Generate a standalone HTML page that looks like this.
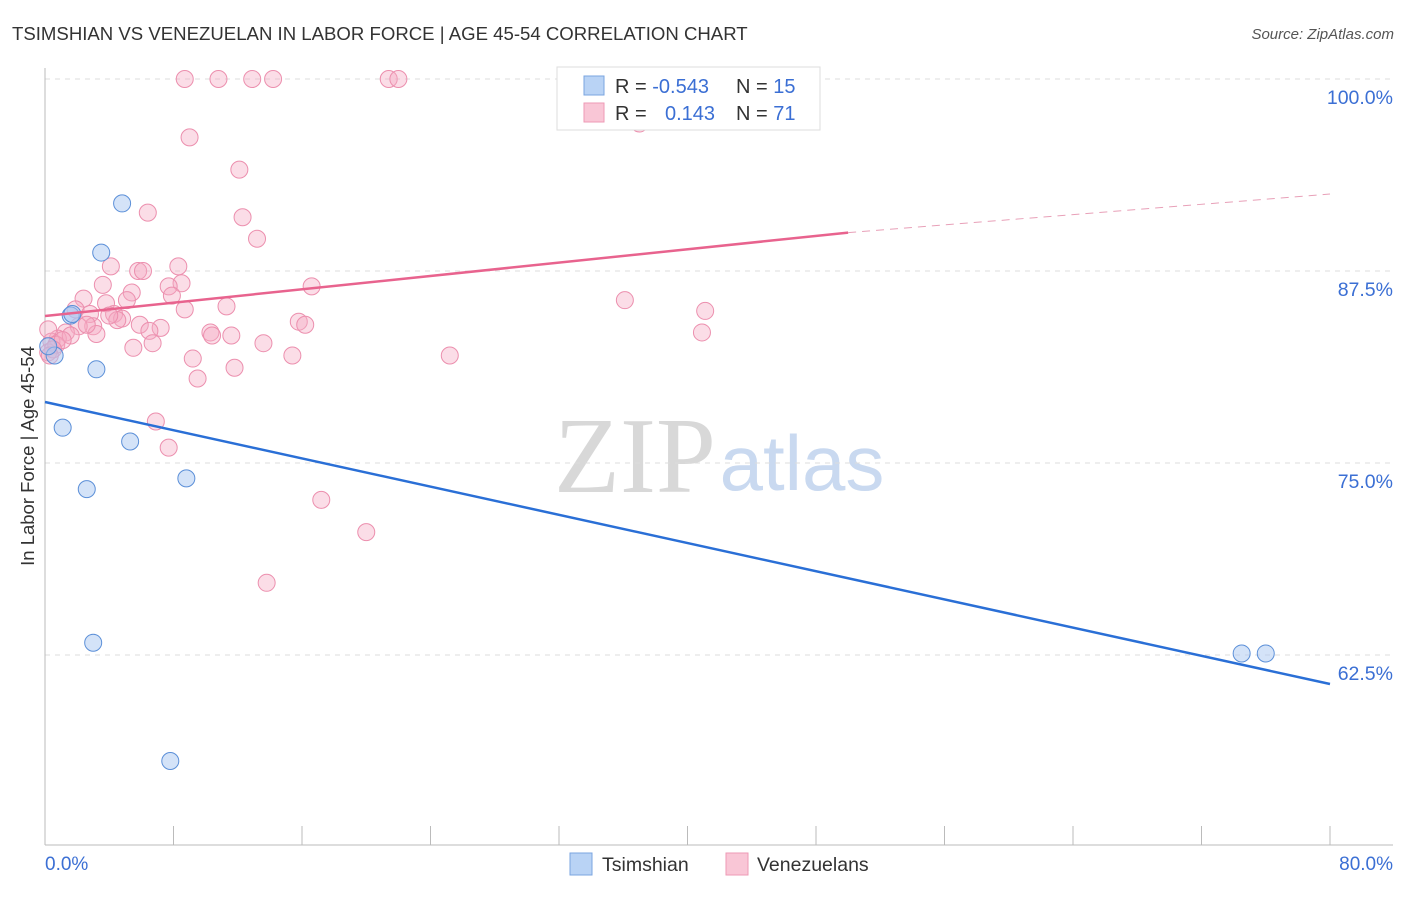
<!DOCTYPE html>
<html><head><meta charset="utf-8"><style>
body{margin:0;background:#fff;font-family:"Liberation Sans",sans-serif;}
</style></head><body>
<svg id="chart" width="1406" height="892" xmlns="http://www.w3.org/2000/svg" font-family="Liberation Sans, sans-serif">
<text x="12" y="40" font-size="18.6" fill="#333">TSIMSHIAN VS VENEZUELAN IN LABOR FORCE | AGE 45-54 CORRELATION CHART</text>
<text x="1394" y="39" font-size="15" fill="#555" font-style="italic" text-anchor="end">Source: ZipAtlas.com</text>
<g>
<text x="635" y="492" font-size="108" font-family="Liberation Serif, serif" fill="#d8d8d8" text-anchor="middle">ZIP</text>
<text x="802" y="490" font-size="78" fill="#c9d9f0" text-anchor="middle">atlas</text>
</g>
<g id="grid"></g>
<g id="axes"></g>
<g id="marks"></g>
<g>
<rect x="557" y="67" width="263" height="63" fill="#fff" stroke="#ddd"/>
<rect x="584" y="76" width="20" height="19" fill="#b9d3f5" stroke="#7aa5e0"/>
<rect x="584" y="103" width="20" height="19" fill="#f9c6d6" stroke="#ee9ab5"/>
<text x="615" y="93" font-size="20" fill="#333">R = <tspan fill="#3b6fd4">-0.543</tspan></text>
<text x="736" y="93" font-size="20" fill="#333">N = <tspan fill="#3b6fd4">15</tspan></text>
<text x="615" y="120" font-size="20" fill="#333">R = </text>
<text x="665" y="120" font-size="20" fill="#3b6fd4">0.143</text>
<text x="736" y="120" font-size="20" fill="#333">N = <tspan fill="#3b6fd4">71</tspan></text>
</g>
<g>
<rect x="570" y="853" width="22" height="22" fill="#b9d3f5" stroke="#7aa5e0"/>
<text x="602" y="871" font-size="19.5" fill="#333">Tsimshian</text>
<rect x="726" y="853" width="22" height="22" fill="#f9c6d6" stroke="#ee9ab5"/>
<text x="757" y="871" font-size="19.5" fill="#333">Venezuelans</text>
</g>
<text transform="translate(34,456) rotate(-90)" font-size="18.5" fill="#333" text-anchor="middle">In Labor Force | Age 45-54</text>
</svg>
<script>
const yTicks=[100,87.5,75,62.5];
const yTickLabels=["100.0%","87.5%","75.0%","62.5%"];
const xTickCount=11;
const blueX=[4.8,3.5,1.6,0.6,3.2,1.1,5.3,2.6,8.8,3.0,7.8,74.5,76.0,0.2,1.7];
const blueY=[91.9,88.7,84.6,82.0,81.1,77.3,76.4,73.3,74.0,63.3,55.6,62.6,62.6,82.6,84.7];
const pinkX=[8.7,10.8,12.9,14.2,21.4,22.0,37.0,9.0,12.1,6.4,12.3,13.2,4.1,5.8,6.1,8.3,8.5,7.7,3.6,16.6,5.4,7.9,2.4,3.8,5.1,11.3,36.1,8.7,41.1,1.9,2.8,4.3,4.8,4.5,15.8,16.2,5.9,7.2,6.5,3.0,2.1,3.2,1.3,10.3,10.4,11.6,40.9,0.8,0.4,6.7,13.6,5.5,15.4,25.2,9.2,11.8,9.5,6.9,7.7,17.2,20.0,13.8,0.2,0.2,0.7,1.6,1.1,2.6,4.0,0.5,0.3];
const pinkY=[100,100,100,100,100,100,97.1,96.2,94.1,91.3,91.0,89.6,87.8,87.5,87.5,87.8,86.7,86.5,86.6,86.5,86.1,85.9,85.7,85.4,85.6,85.2,85.6,85.0,84.9,85.0,84.7,84.7,84.4,84.3,84.2,84.0,84.0,83.8,83.6,83.9,83.9,83.4,83.5,83.5,83.3,83.3,83.5,83.1,82.9,82.8,82.8,82.5,82.0,82.0,81.8,81.2,80.5,77.7,76.0,72.6,70.5,67.2,83.7,82.2,82.7,83.3,83.0,84.0,84.6,82.4,82.0];
const blueTrend=[0,78.97,80,60.61];
const pinkTrend=[0,84.57,50,90.0,80,92.51];
const NS="http://www.w3.org/2000/svg";
const sx=v=>45+v/80*1285;
const sy=v=>79+(100-v)*15.36;
function mk(tag,attrs,parent){const e=document.createElementNS(NS,tag);for(const k in attrs)e.setAttribute(k,attrs[k]);document.getElementById(parent).appendChild(e);return e;}
yTicks.forEach((t,i)=>{
 const g=mk('line',{x1:45,x2:1393,y1:sy(t),y2:sy(t),stroke:'#ddd','stroke-dasharray':'5,5'},'grid');
 
 
 const l=mk('text',{x:1393,y:sy(t)+25,'font-size':19.5,fill:'#3b6fd4','text-anchor':'end'},'axes');
 l.textContent=yTickLabels[i];
 
 
});
const ya=mk('line',{x1:45,x2:45,y1:68,y2:845,stroke:'#bbb'},'axes');


const xa=mk('line',{x1:45,x2:1393,y1:845,y2:845,stroke:'#bbb'},'axes');


for(let i=0;i<xTickCount;i++){const x=sx(i*8);const t=mk('line',{x1:x,x2:x,y1:826,y2:845,stroke:'#bbb'},'axes');
 
 }
const x0=mk('text',{x:45,y:870,'font-size':19,fill:'#3b6fd4'},'axes');x0.textContent='0.0%';


const x1=mk('text',{x:1393,y:870,'font-size':19,fill:'#3b6fd4','text-anchor':'end'},'axes');x1.textContent='80.0%';


pinkX.forEach((v,i)=>{const c=mk('circle',{cx:sx(v),cy:sy(pinkY[i]),r:8.5,fill:'rgba(246,170,195,0.4)',stroke:'#ec8fae','stroke-width':1},'marks');
 
 });
blueX.forEach((v,i)=>{const c=mk('circle',{cx:sx(v),cy:sy(blueY[i]),r:8.5,fill:'rgba(170,200,242,0.5)',stroke:'#5b8fd8','stroke-width':1},'marks');
 
 });
const pl=mk('line',{x1:sx(pinkTrend[0]),y1:sy(pinkTrend[1]),x2:sx(pinkTrend[2]),y2:sy(pinkTrend[3]),stroke:'#e8638e','stroke-width':2.5},'marks');


const pd=mk('line',{x1:sx(pinkTrend[2]),y1:sy(pinkTrend[3]),x2:sx(pinkTrend[4]),y2:sy(pinkTrend[5]),stroke:'#e8a0b8','stroke-width':1,'stroke-dasharray':'8,6'},'marks');


const bl=mk('line',{x1:sx(blueTrend[0]),y1:sy(blueTrend[1]),x2:sx(blueTrend[2]),y2:sy(blueTrend[3]),stroke:'#2a6fd6','stroke-width':2.5},'marks');


</script>
</body></html>
